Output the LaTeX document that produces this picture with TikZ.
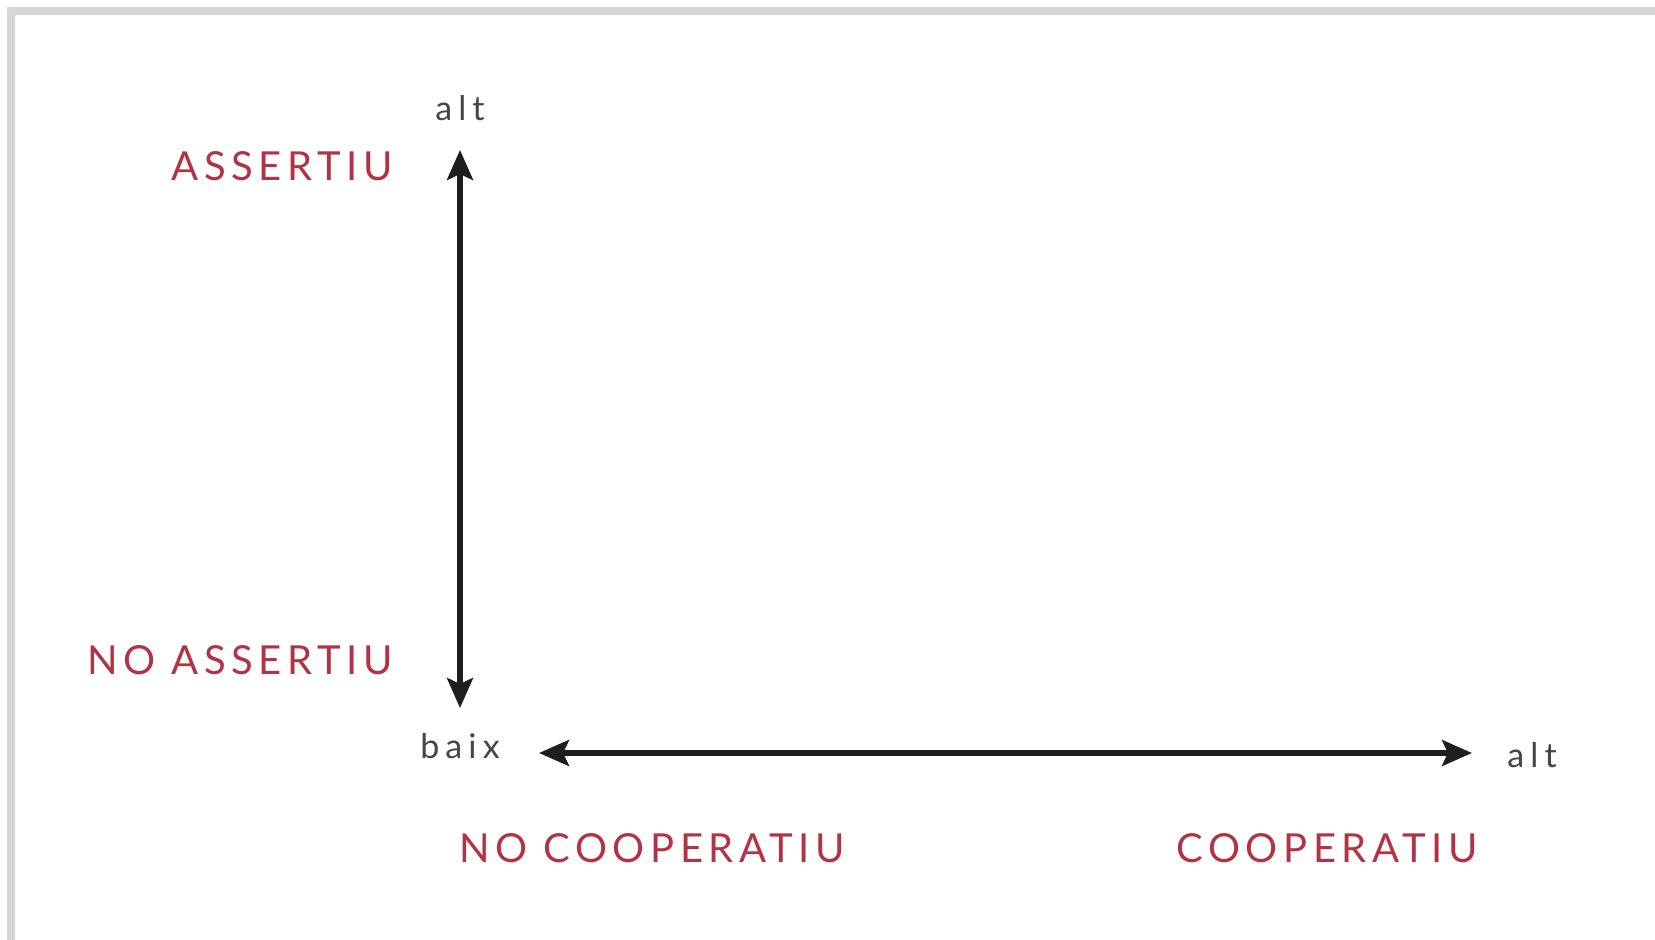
\documentclass[tikz,border=0pt]{standalone}
\usepackage{fontspec}
\setmainfont{Lato}
\newfontfamily\catfont[LetterSpace=14]{Lato}
\newfontfamily\endfont[LetterSpace=18]{Lato}
\usetikzlibrary{arrows.meta}
\definecolor{labred}{RGB}{178,52,68}
\definecolor{axisgray}{RGB}{30,30,30}
\definecolor{framegray}{RGB}{214,214,214}
\definecolor{smallgray}{RGB}{70,70,70}
\tikzset{
  catlabel/.style={text=labred, font=\catfont\fontsize{20}{24}\selectfont, inner sep=0pt},
  endlabel/.style={text=smallgray, font=\endfont\fontsize{17}{20}\selectfont, inner sep=0pt},
  axis/.style={draw=axisgray, line width=2.6pt, {Stealth[length=15pt,width=13pt,inset=3pt]}-{Stealth[length=15pt,width=13pt,inset=3pt]}},
  frame/.style={draw=framegray, line width=4pt}
}
\begin{document}
\begin{tikzpicture}[x=0.5pt,y=-0.5pt]
\useasboundingbox (0,0) rectangle (1655,940);
\fill[white] (0,0) rectangle (1655,940);
% frame
\coordinate (ftl) at (11,11);
\coordinate (ftr) at (1655,11);
\coordinate (fbl) at (11,940);
\draw[frame] (fbl) -- (ftl) -- (ftr);
% axes
\coordinate (vtop) at (460,150);
\coordinate (vbot) at (460,708);
\coordinate (hl) at (539,753);
\coordinate (hr) at (1472,753);
\draw[axis] (vtop) -- (vbot);
\draw[axis] (hl) -- (hr);
% labels
\node[endlabel] (alttop) at (460,108) {alt};
\node[endlabel] (baix) at (460,746) {baix};
\node[endlabel] (altright) at (1532,755) {alt};
\node[catlabel, anchor=east] (assertiu) at (393,166) {ASSERTIU};
\node[catlabel, anchor=east] (noassertiu) at (393,660) {NO ASSERTIU};
\node[catlabel] (nocoop) at (652,848) {NO COOPERATIU};
\node[catlabel] (coop) at (1327,848) {COOPERATIU};
\end{tikzpicture}
\end{document}
